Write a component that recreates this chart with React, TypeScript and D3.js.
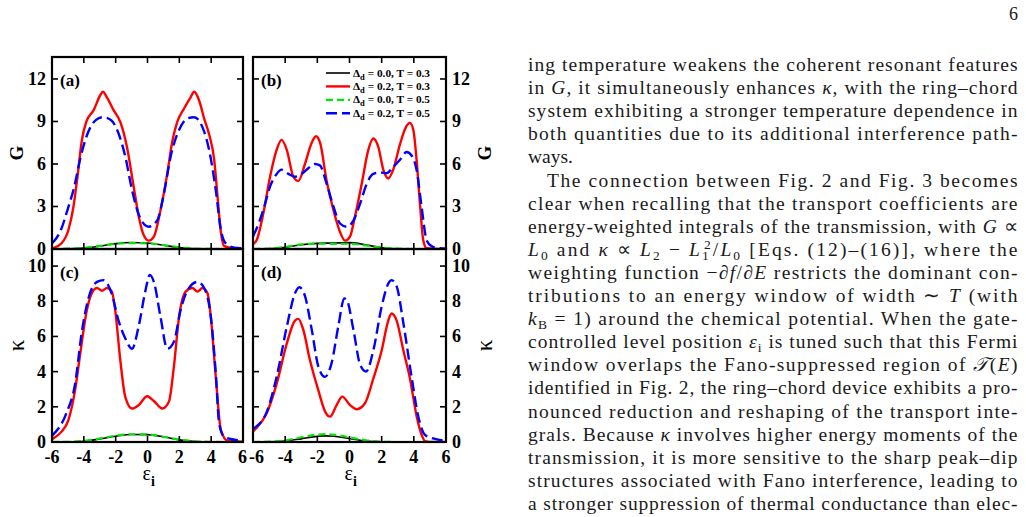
import * as d3 from "d3";
import { useEffect, useRef } from "react";

const W = 1026;
const H = 517;

type Pt = [number, number];

// conductance G, ring (a) and ring–chord (b)
const BLACK_A: Pt[] = [[-6, 0], [-5, 0.01], [-4, 0.06], [-3, 0.2], [-2, 0.38], [-1, 0.46], [0, 0.42], [1, 0.27], [2, 0.1], [3, 0.02], [4, 0], [5, 0], [6, 0]];
const RED_A: Pt[] = [[-6, 0.05], [-5.9, 0.08], [-5.4, 0.4], [-4.97, 1.34], [-4.65, 3.0], [-4.4, 5.1], [-4.12, 7.7], [-3.85, 8.97], [-3.38, 9.8], [-2.97, 10.85], [-2.8, 11.1], [-2.55, 10.7], [-2.13, 9.8], [-1.71, 8.97], [-1.29, 7.2], [-0.87, 4.4], [-0.55, 2.3], [-0.24, 0.99], [0.08, 0.59], [0.4, 0.87], [0.82, 2.75], [1.24, 5.3], [1.56, 7.6], [1.87, 8.97], [2.29, 9.9], [2.71, 10.7], [2.93, 11.1], [3.24, 10.5], [3.56, 9.2], [3.87, 8.1], [4.19, 6.3], [4.4, 3.7], [4.61, 1.2], [4.82, 0.2], [5.45, 0.05], [6, 0.02]];
const GREEN_A: Pt[] = [[-6, 0], [-5, 0.02], [-4, 0.08], [-3, 0.22], [-2, 0.36], [-1, 0.42], [0, 0.4], [1, 0.28], [2, 0.12], [3, 0.03], [4, 0.005], [5, 0], [6, 0]];
const BLUE_A: Pt[] = [[-6, 0.4], [-5.44, 1.34], [-5.03, 2.75], [-4.6, 4.4], [-4.2, 6.5], [-3.78, 8.1], [-3.25, 9.1], [-2.83, 9.3], [-2.3, 9.1], [-1.8, 8.1], [-1.39, 6.5], [-0.97, 4.15], [-0.45, 2.16], [0.08, 1.57], [0.6, 2.0], [1.03, 3.9], [1.45, 6.5], [1.98, 8.4], [2.5, 9.2], [2.93, 9.3], [3.45, 8.6], [3.87, 7.0], [4.29, 4.15], [4.61, 1.34], [4.92, 0.4], [5.45, 0.1], [6, 0.05]];

const BLACK_B: Pt[] = [[-6, 0], [-5, 0.02], [-4, 0.12], [-3, 0.3], [-2, 0.4], [-1, 0.42], [0, 0.45], [1, 0.3], [2, 0.08], [3, 0.01], [4, 0], [5, 0], [6, 0]];
const RED_B: Pt[] = [[-6, 0.35], [-5.77, 0.63], [-5.36, 2.5], [-4.94, 5.1], [-4.53, 7.0], [-4.22, 7.7], [-3.9, 7.0], [-3.49, 5.1], [-3.18, 4.8], [-2.77, 6.0], [-2.35, 7.5], [-2.08, 7.96], [-1.83, 7.5], [-1.42, 4.8], [-1.0, 2.75], [-0.59, 1.2], [-0.28, 0.59], [0.03, 0.87], [0.34, 2.3], [0.76, 4.6], [1.17, 7.0], [1.48, 7.8], [1.79, 7.2], [2.1, 5.6], [2.41, 4.98], [2.72, 5.6], [3.14, 7.4], [3.51, 8.6], [3.76, 8.9], [3.97, 8.4], [4.17, 6.3], [4.38, 3.2], [4.59, 0.6], [4.8, 0.05], [5.5, 0], [6, 0]];
const GREEN_B: Pt[] = [[-6, 0], [-5, 0.03], [-4, 0.15], [-3, 0.32], [-2, 0.38], [-1, 0.36], [0, 0.37], [1, 0.25], [2, 0.1], [3, 0.02], [4, 0], [5, 0], [6, 0]];
const BLUE_B: Pt[] = [[-6, 0.9], [-5.87, 1.2], [-5.36, 2.75], [-4.94, 4.4], [-4.53, 5.3], [-4.22, 5.6], [-3.8, 5.3], [-3.39, 5.1], [-2.98, 5.3], [-2.56, 5.7], [-2.15, 6.0], [-1.84, 5.9], [-1.42, 4.6], [-1.0, 3.0], [-0.59, 1.8], [-0.17, 1.57], [0.24, 2.0], [0.66, 3.2], [1.07, 4.6], [1.48, 5.3], [1.9, 5.4], [2.31, 5.35], [2.72, 5.8], [3.14, 6.3], [3.55, 6.85], [3.86, 6.6], [4.17, 5.6], [4.48, 3.0], [4.8, 0.6], [5.1, 0.2], [5.6, 0.05], [6, 0.02]];

// thermal conductance κ, ring (c) and ring–chord (d)
const BLACK_C: Pt[] = [[-6, 0], [-5, 0.01], [-4, 0.04], [-3, 0.17], [-2, 0.33], [-1, 0.43], [0, 0.42], [1, 0.3], [2, 0.12], [3, 0.03], [4, 0.005], [5, 0], [6, 0]];
const RED_C: Pt[] = [[-6, 0.15], [-5.9, 0.21], [-5.4, 0.59], [-4.97, 1.25], [-4.55, 2.95], [-4.23, 5.0], [-3.81, 7.5], [-3.38, 8.64], [-3.17, 8.75], [-2.86, 8.6], [-2.55, 8.75], [-2.24, 8.55], [-2.03, 7.5], [-1.71, 4.66], [-1.4, 2.58], [-0.97, 1.9], [-0.55, 2.1], [-0.02, 2.6], [0.4, 2.33], [0.93, 1.9], [1.35, 2.3], [1.66, 4.3], [1.98, 7.1], [2.4, 8.55], [2.82, 8.75], [3.14, 8.55], [3.45, 8.75], [3.77, 8.45], [3.98, 7.1], [4.29, 3.7], [4.61, 0.68], [5.03, 0.08], [6, 0.02]];
const GREEN_C: Pt[] = [[-6, 0], [-5, 0.01], [-4, 0.06], [-3, 0.2], [-2, 0.36], [-1, 0.44], [0, 0.43], [1, 0.3], [2, 0.13], [3, 0.04], [4, 0.01], [5, 0], [6, 0]];
const BLUE_C: Pt[] = [[-6, 0.35], [-5.1, 1.63], [-4.55, 3.3], [-4.12, 6.3], [-3.7, 8.2], [-3.17, 9.1], [-2.76, 9.2], [-2.24, 8.4], [-1.82, 6.9], [-1.4, 5.9], [-0.97, 5.3], [-0.55, 6.6], [-0.13, 8.6], [0.14, 9.5], [0.4, 9.1], [0.82, 7.1], [1.24, 5.3], [1.66, 5.7], [2.08, 7.5], [2.5, 8.6], [3.14, 9.1], [3.56, 8.75], [3.98, 7.1], [4.29, 3.9], [4.5, 1.06], [4.82, 0.3], [5.45, 0.13], [6, 0.05]];

const BLACK_D: Pt[] = [[-6, 0], [-5, 0.01], [-4, 0.06], [-3, 0.18], [-2, 0.32], [-1.5, 0.35], [-1, 0.33], [0, 0.2], [1, 0.06], [2, 0.01], [3, 0], [4, 0], [5, 0], [6, 0]];
const RED_D: Pt[] = [[-6, 0.6], [-5.8, 0.78], [-5.15, 1.63], [-4.53, 3.3], [-3.9, 5.6], [-3.39, 6.9], [-3.18, 7.0], [-2.88, 6.4], [-2.46, 4.66], [-1.94, 2.95], [-1.5, 1.7], [-1.21, 1.44], [-0.8, 2.1], [-0.45, 2.58], [0.03, 2.1], [0.45, 1.86], [0.96, 2.2], [1.48, 3.6], [2.0, 5.2], [2.41, 6.9], [2.62, 7.3], [2.93, 6.9], [3.35, 5.2], [3.76, 3.6], [4.18, 1.44], [4.49, 0.4], [4.7, 0.05], [5.2, 0], [6, 0]];
const GREEN_D: Pt[] = [[-6, 0], [-5, 0.02], [-4, 0.09], [-3, 0.27], [-2, 0.42], [-1.5, 0.45], [-1, 0.42], [0, 0.27], [1, 0.1], [2, 0.02], [3, 0], [4, 0], [5, 0], [6, 0]];
const BLUE_D: Pt[] = [[-6, 0.75], [-5.8, 0.87], [-5.15, 1.7], [-4.53, 3.7], [-3.9, 6.55], [-3.39, 8.45], [-3.12, 8.8], [-2.77, 8.3], [-2.35, 6.4], [-1.94, 4.3], [-1.53, 3.7], [-1.11, 4.5], [-0.7, 6.55], [-0.32, 8.16], [-0.18, 8.1], [0.24, 6.4], [0.66, 4.4], [1.03, 4.0], [1.48, 5.2], [2.0, 7.7], [2.41, 9.0], [2.62, 9.2], [2.93, 8.85], [3.35, 6.75], [3.86, 3.7], [4.28, 1.44], [4.7, 0.4], [5.2, 0.2], [5.7, 0.1], [6, 0.08]];

const X_TICKS = [-6, -4, -2, 0, 2, 4, 6];
const G_TICKS = [0, 3, 6, 9, 12];
const K_TICKS = [0, 2, 4, 6, 8, 10];

const LEGEND_DELTA = ["0.0", "0.2", "0.0", "0.2"];
const LEGEND_T = ["0.3", "0.3", "0.5", "0.5"];

// black, red, green, blue – same order as the series lists below
const STYLES = [
	{ color: "#000000", width: 1.6, dash: null as string | null },
	{ color: "#ff0000", width: 2.4, dash: null as string | null },
	{ color: "#00e600", width: 2.2, dash: "7,4" },
	{ color: "#0000ff", width: 2.4, dash: "11,5" },
];

const PANELS = [
	{ tag: "(a)", x0: 52, x1: 243, y0: 57, y1: 249, yMax: 13.55, ticks: G_TICKS, side: "left", yLabel: "G", xLabels: false, series: [BLACK_A, RED_A, GREEN_A, BLUE_A] },
	{ tag: "(b)", x0: 253, x1: 446, y0: 57, y1: 249, yMax: 13.55, ticks: G_TICKS, side: "right", yLabel: "G", xLabels: false, series: [BLACK_B, RED_B, GREEN_B, BLUE_B] },
	{ tag: "(c)", x0: 52, x1: 243, y0: 249, y1: 442, yMax: 10.97, ticks: K_TICKS, side: "left", yLabel: "κ", xLabels: true, series: [BLACK_C, RED_C, GREEN_C, BLUE_C] },
	{ tag: "(d)", x0: 253, x1: 446, y0: 249, y1: 442, yMax: 10.97, ticks: K_TICKS, side: "right", yLabel: "κ", xLabels: true, series: [BLACK_D, RED_D, GREEN_D, BLUE_D] },
];

// text column: [text, kind] with kind "" | "i" | "sub" | "sup" | "supk" (sup stacked over a sub)
type Seg = [string, string?];
const BODY: { segs: Seg[]; indent?: boolean; ragged?: boolean }[] = [
	{ segs: [["ing temperature weakens the coherent resonant features"]] },
	{ segs: [["in "], ["G", "i"], [", it simultaneously enhances "], ["κ", "i"], [", with the ring–chord"]] },
	{ segs: [["system exhibiting a stronger temperature dependence in"]] },
	{ segs: [["both quantities due to its additional interference path-"]] },
	{ segs: [["ways."]], ragged: true },
	{ segs: [["The connection between Fig. 2 and Fig. 3 becomes"]], indent: true },
	{ segs: [["clear when recalling that the transport coefficients are"]] },
	{ segs: [["energy-weighted integrals of the transmission, with "], ["G", "i"], [" ∝"]] },
	{ segs: [["L", "i"], ["0", "sub"], [" and "], ["κ", "i"], [" ∝ "], ["L", "i"], ["2", "sub"], [" − "], ["L", "i"], ["1", "sub"], ["2", "supk"], ["/"], ["L", "i"], ["0", "sub"], [" [Eqs. (12)–(16)], where the"]] },
	{ segs: [["weighting function −∂"], ["f", "i"], ["/∂"], ["E", "i"], [" restricts the dominant con-"]] },
	{ segs: [["tributions to an energy window of width ∼ "], ["T", "i"], [" (with"]] },
	{ segs: [["k", "i"], ["B", "sub"], [" = 1) around the chemical potential. When the gate-"]] },
	{ segs: [["controlled level position "], ["ε", "i"], ["i", "sub"], [" is tuned such that this Fermi"]] },
	{ segs: [["window overlaps the Fano-suppressed region of "], ["𝒯", "i"], ["("], ["E", "i"], [")"]] },
	{ segs: [["identified in Fig. 2, the ring–chord device exhibits a pro-"]] },
	{ segs: [["nounced reduction and reshaping of the transport inte-"]] },
	{ segs: [["grals. Because "], ["κ", "i"], [" involves higher energy moments of the"]] },
	{ segs: [["transmission, it is more sensitive to the sharp peak–dip"]] },
	{ segs: [["structures associated with Fano interference, leading to"]] },
	{ segs: [["a stronger suppression of thermal conductance than elec-"]] },
];

const SERIF = "'Liberation Serif', 'Times New Roman', serif";

export default function App() {
	const svgRef = useRef<SVGSVGElement>(null);

	useEffect(() => {
		const svg = svgRef.current;
		if (!svg) return;
		const root = d3.select(svg);
		root.selectAll("*").remove();

		root.append("rect").attr("width", W).attr("height", H).attr("fill", "#fff");

		const defs = root.append("defs");

		PANELS.forEach((p, pi) => {
			const x = d3.scaleLinear().domain([-6, 6]).range([p.x0, p.x1]);
			const y = d3.scaleLinear().domain([0, p.yMax]).range([p.y1, p.y0]);
			const g = root.append("g");
			const left = p.side === "left";

			defs.append("clipPath")
				.attr("id", `clip${pi}`)
				.append("rect")
				.attr("x", p.x0)
				.attr("y", p.y0)
				.attr("width", p.x1 - p.x0)
				.attr("height", p.y1 - p.y0);

			const line = d3
				.line<Pt>()
				.x((d) => x(d[0]))
				.y((d) => y(d[1]))
				.curve(d3.curveMonotoneX);

			const curves = g.append("g").attr("clip-path", `url(#clip${pi})`);
			p.series.forEach((s, si) => {
				const st = STYLES[si];
				curves
					.append("path")
					.datum(s)
					.attr("d", line)
					.attr("fill", "none")
					.attr("stroke", st.color)
					.attr("stroke-width", st.width)
					.attr("stroke-dasharray", st.dash)
					.attr("stroke-linejoin", "round");
			});

			// ticks point inward on all four sides
			const tk = 6;
			const ticks = g.append("g").attr("stroke", "#000").attr("stroke-width", 1.6);
			X_TICKS.forEach((v) => {
				ticks.append("line").attr("x1", x(v)).attr("x2", x(v)).attr("y1", p.y1).attr("y2", p.y1 - tk);
				ticks.append("line").attr("x1", x(v)).attr("x2", x(v)).attr("y1", p.y0).attr("y2", p.y0 + tk);
			});
			p.ticks.forEach((v) => {
				ticks.append("line").attr("x1", p.x0).attr("x2", p.x0 + tk).attr("y1", y(v)).attr("y2", y(v));
				ticks.append("line").attr("x1", p.x1).attr("x2", p.x1 - tk).attr("y1", y(v)).attr("y2", y(v));
			});

			g.append("rect")
				.attr("x", p.x0)
				.attr("y", p.y0)
				.attr("width", p.x1 - p.x0)
				.attr("height", p.y1 - p.y0)
				.attr("fill", "none")
				.attr("stroke", "#000")
				.attr("stroke-width", 2.2);

			const labels = g
				.append("g")
				.attr("font-family", SERIF)
				.attr("font-weight", "bold")
				.attr("font-size", 18)
				.attr("fill", "#000");

			p.ticks.forEach((v) => {
				labels
					.append("text")
					.attr("x", left ? p.x0 - 6 : p.x1 + 6)
					.attr("y", y(v) + 6)
					.attr("text-anchor", left ? "end" : "start")
					.text(String(v));
			});

			if (p.xLabels) {
				X_TICKS.forEach((v, i) => {
					// the two panels meet at ±6, so those labels are pushed apart
					let anchor = "middle";
					let px = x(v);
					if (left && i === X_TICKS.length - 1) {
						anchor = "end";
						px += 4;
					} else if (!left && i === 0) {
						anchor = "start";
						px -= 4;
					}
					labels
						.append("text")
						.attr("x", px)
						.attr("y", p.y1 + 21)
						.attr("text-anchor", anchor)
						.text(String(v));
				});
				const cx = (p.x0 + p.x1) / 2;
				const eps = g
					.append("text")
					.attr("x", cx - 5)
					.attr("y", p.y1 + 38)
					.attr("font-family", SERIF)
					.attr("font-size", 20)
					.attr("fill", "#000");
				eps.append("tspan").text("ε");
				eps.append("tspan").attr("dy", 6).attr("font-size", 14).attr("font-weight", "bold").text("i");
			}

			// axis title
			const ly = (p.y0 + p.y1) / 2;
			const lx = left ? 16 : p.x1 + 38;
			g.append("text")
				.attr("transform", `translate(${lx},${ly}) rotate(-90)`)
				.attr("text-anchor", "middle")
				.attr("dy", "0.35em")
				.attr("font-family", SERIF)
				.attr("font-weight", p.yLabel === "G" ? "bold" : "normal")
				.attr("font-size", p.yLabel === "G" ? 19 : 23)
				.text(p.yLabel);

			g.append("text")
				.attr("x", p.x0 + 8)
				.attr("y", p.y0 + 29)
				.attr("font-family", SERIF)
				.attr("font-weight", "bold")
				.attr("font-size", 17)
				.text(p.tag);

			if (pi === 1) {
				const leg = g.append("g").attr("font-family", SERIF).attr("font-weight", "bold").attr("font-size", 11.3);
				LEGEND_DELTA.forEach((dv, i) => {
					const st = STYLES[i];
					const ry = p.y0 + 16 + i * 13.4;
					leg.append("line")
						.attr("x1", 326)
						.attr("x2", 350)
						.attr("y1", ry)
						.attr("y2", ry)
						.attr("stroke", st.color)
						.attr("stroke-width", st.width)
						.attr("stroke-dasharray", st.dash);
					const t = leg.append("text").attr("x", 353).attr("y", ry + 3.5);
					t.append("tspan").text("Δ");
					t.append("tspan").attr("dy", 3).attr("font-size", 8.5).text("d");
					t.append("tspan").attr("dy", -3).text(` = ${dv}, T = ${LEGEND_T[i]}`);
				});
			}
		});

		// text column
		const colX0 = 528;
		const colX1 = 1017.5;
		const lineH = 23.1;
		const body = root.append("g").attr("font-family", SERIF).attr("font-size", 19.5).attr("fill", "#1a1a1a");
		BODY.forEach((ln, i) => {
			const x0 = ln.indent ? colX0 + 19 : colX0;
			const t = body.append("text").attr("x", x0).attr("y", 71 + i * lineH);
			if (!ln.ragged) t.attr("textLength", colX1 - x0).attr("lengthAdjust", "spacing");
			let shift = 0;
			ln.segs.forEach(([s, kind]) => {
				const target = kind === "sub" ? 4 : kind === "sup" || kind === "supk" ? -7 : 0;
				const ts = t.append("tspan").text(s);
				if (target !== shift) ts.attr("dy", target - shift);
				shift = target;
				if (kind === "i") ts.attr("font-style", "italic");
				if (kind === "sub" || kind === "sup" || kind === "supk") ts.attr("font-size", 13.5);
				if (kind === "supk") ts.attr("dx", -7);
			});
		});

		root.append("text")
			.attr("x", 1018)
			.attr("y", 20)
			.attr("text-anchor", "end")
			.attr("font-family", SERIF)
			.attr("font-size", 18)
			.attr("fill", "#1a1a1a")
			.text("6");
	}, []);

	return (
		<svg
			ref={svgRef}
			width={W}
			height={H}
			viewBox={`0 0 ${W} ${H}`}
			style={{ position: "absolute", left: 0, top: 0, display: "block" }}
		/>
	);
}
